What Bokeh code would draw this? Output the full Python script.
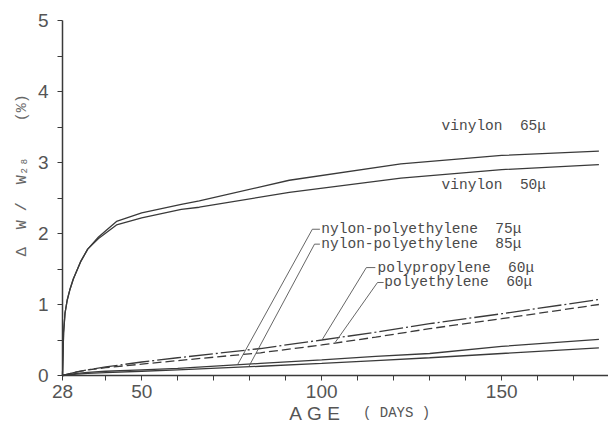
import math
from bokeh.plotting import figure
from bokeh.models import Range1d, FixedTicker, ColumnDataSource
from bokeh.core.properties import value
from bokeh.embed import file_html
from bokeh.resources import INLINE

NB = "\u00a0"

# ---- data ----
vinylon_days = [28, 28.3, 28.7, 29.3, 30, 31, 33, 35, 38, 43, 50, 61, 66, 91, 122, 150, 177]
vinylon_65 = [0, 0.6, 0.88, 1.06, 1.2, 1.36, 1.6, 1.78, 1.95, 2.17, 2.29, 2.41, 2.46, 2.75, 2.98, 3.1, 3.16]
vinylon_50 = [0, 0.6, 0.88, 1.06, 1.2, 1.36, 1.6, 1.78, 1.93, 2.12, 2.22, 2.34, 2.37, 2.58, 2.78, 2.9, 2.97]

low_days = [28, 32, 35, 40, 50, 60, 83, 100, 115, 130, 150, 177]
polypropylene_60 = [0, 0.05, 0.08, 0.12, 0.19, 0.25, 0.38, 0.5, 0.61, 0.73, 0.87, 1.07]
polyethylene_60 = [0, 0.05, 0.08, 0.11, 0.16, 0.21, 0.32, 0.43, 0.54, 0.66, 0.8, 1.0]
nylon_pe_75 = [0, 0.03, 0.045, 0.06, 0.08, 0.10, 0.17, 0.22, 0.27, 0.31, 0.41, 0.51]
nylon_pe_85 = [0, 0.02, 0.03, 0.04, 0.06, 0.08, 0.13, 0.17, 0.21, 0.25, 0.31, 0.39]

series_labels = ["vinylon  65μ", "vinylon  50μ", "nylon-polyethylene  75μ",
                 "nylon-polyethylene  85μ", "polypropylene  60μ", "polyethylene  60μ"]

x_major_ticks = [28, 50, 100, 150]
x_minor_ticks = [40, 60, 70, 80, 90, 110, 120, 130, 140, 160, 170]
y_major_ticks = [0, 1, 2, 3, 4, 5]
y_minor_ticks = [0.5, 1.5, 2.5, 3.5, 4.5]

y_title = "Δ  W /  W₂₈    (%)"
x_title_main = "A G E"
x_title_unit = "( DAYS )"

# annotation placement (label anchors and leader paths, in data units)
label_x = [133.3, 133.3, 99.9, 99.9, 115.5, 117.4]
label_y = [3.52, 2.68, 2.06, 1.85, 1.52, 1.31]
leaders = [
    ([76.6, 97.4, 99.5], [0.15, 2.06, 2.06]),
    ([79.7, 98.0, 99.5], [0.12, 1.85, 1.85]),
    ([100.2, 112.4, 114.9], [0.51, 1.52, 1.52]),
    ([103.8, 115.5, 117.2], [0.47, 1.31, 1.31]),
]

INK = "#3a3a3a"
TXT = "#4a4a4a"

# frame covers the whole canvas; axes are pinned at day 28 / value 0
p = figure(width=608, height=426, output_backend="svg", toolbar_location=None,
           x_range=Range1d(28 - 62 / 3.6, 28 + 546 / 3.6),
           y_range=Range1d(-51 / 71, 5 + 20 / 71),
           min_border_left=0, min_border_right=0, min_border_top=0, min_border_bottom=0)
p.outline_line_color = None
p.grid.visible = False
p.background_fill_color = "white"
p.border_fill_color = "white"

xa = p.xaxis[0]
ya = p.yaxis[0]
xa.fixed_location = 0
ya.fixed_location = 28
xa.bounds = (28, 180)
ya.bounds = (0, 5)

for ax in (xa, ya):
    ax.axis_line_color = INK
    ax.axis_line_width = 1.5
    ax.major_tick_line_color = INK
    ax.minor_tick_line_color = INK
    ax.major_tick_out = 5
    ax.major_tick_in = 0
    ax.minor_tick_out = 5
    ax.minor_tick_in = 0
    ax.major_label_text_font = "Liberation Sans"
    ax.major_label_text_font_size = "19px"
    ax.major_label_text_color = "#555555"

xa.ticker = FixedTicker(ticks=x_major_ticks, minor_ticks=x_minor_ticks)
ya.ticker = FixedTicker(ticks=y_major_ticks, minor_ticks=y_minor_ticks)
xa.major_label_standoff = 4
ya.major_label_standoff = 9

# curves
p.line(vinylon_days, vinylon_65, line_color=INK, line_width=1.3)
p.line(vinylon_days, vinylon_50, line_color=INK, line_width=1.3)
p.line(low_days, polypropylene_60, line_color=INK, line_width=1.3, line_dash="24 3 2 3")
p.line(low_days, polyethylene_60, line_color=INK, line_width=1.3, line_dash="9 4")
p.line(low_days, nylon_pe_75, line_color=INK, line_width=1.3)
p.line(low_days, nylon_pe_85, line_color=INK, line_width=1.3)

for lx, ly in leaders:
    p.line(lx, ly, line_color="#555555", line_width=0.9)

src = ColumnDataSource(dict(x=label_x, y=label_y,
                            t=[s.replace(" ", NB) for s in series_labels]))
p.text(x="x", y="y", text="t", source=src, text_font=value("Liberation Mono"),
       text_font_size="14.5px", text_color=TXT, text_baseline="middle", text_align="left")

# axis titles as text glyphs (inside the full-canvas frame)
p.text(x=[16.9], y=[2.82], text=[y_title.replace(" ", NB)], angle=math.pi / 2,
       text_font=value("Liberation Mono"), text_font_size="15px",
       text_color="#666666", text_align="center", text_baseline="middle")
p.text(x=[98.0], y=[-0.535], text=[x_title_main.replace(" ", NB)],
       text_font=value("Liberation Sans"), text_font_size="19px",
       text_color="#555555", text_align="center", text_baseline="middle")
p.text(x=[120.8], y=[-0.535], text=[x_title_unit.replace(" ", NB)],
       text_font=value("Liberation Mono"), text_font_size="14px",
       text_color="#555555", text_align="center", text_baseline="middle")

open("out.html", "w").write(file_html(p, INLINE))
